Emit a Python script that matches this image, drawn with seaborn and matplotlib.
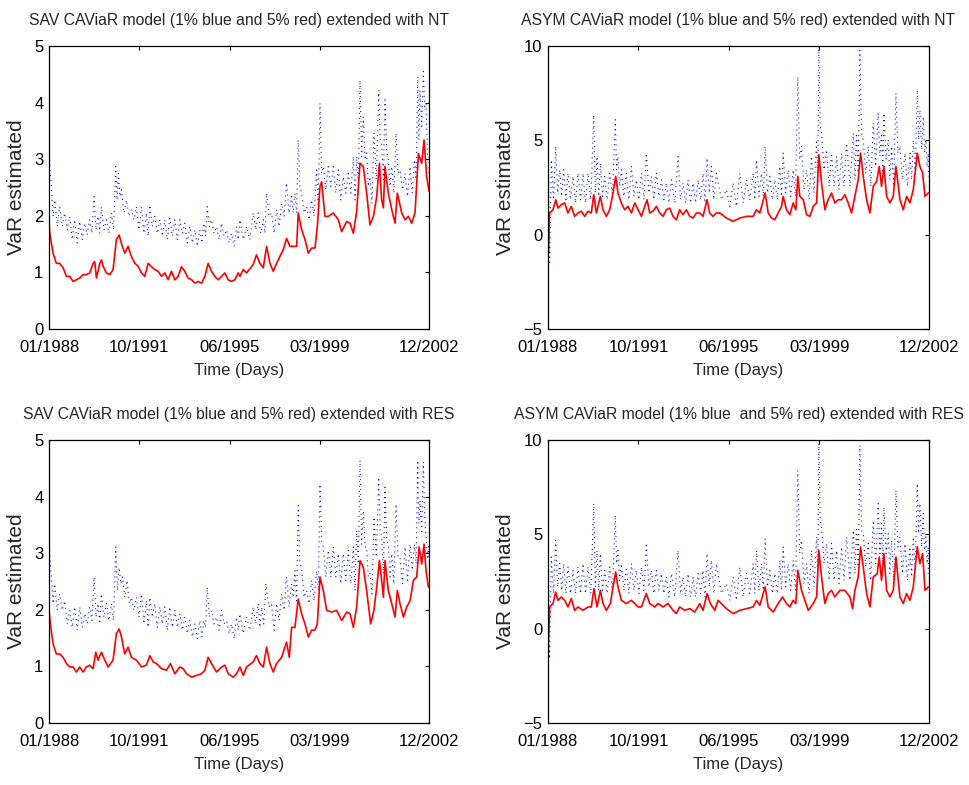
import matplotlib
matplotlib.use("Agg")
import matplotlib.pyplot as plt
import seaborn as sns

# ---------------------------------------------------------------------------
# Data: trading-day index (0 = 01/1988, 4000 = 12/2002) and estimated VaR
# ---------------------------------------------------------------------------
tick_days = [0, 950, 1900, 2850, 4000]
tick_labels = ["01/1988", "10/1991", "06/1995", "03/1999", "12/2002"]

# SAV CAViaR extended with NT, 5% VaR (red)
sav_nt_red_day = [0, 7, 42, 77, 112, 148, 183, 218, 253, 288,
                  323, 358, 393, 428, 464, 481, 499, 534, 551, 569,
                  604, 639, 674, 709, 738, 762, 797, 832, 867, 903,
                  938, 973, 1008, 1043, 1078, 1113, 1148, 1184, 1219, 1254,
                  1289, 1324, 1359, 1394, 1429, 1464, 1500, 1535, 1570, 1605,
                  1640, 1675, 1710, 1745, 1781, 1816, 1851, 1886, 1921, 1956,
                  1991, 2009, 2044, 2079, 2149, 2184, 2219, 2255, 2290, 2325,
                  2360, 2395, 2430, 2465, 2500, 2536, 2571, 2606, 2623, 2658,
                  2694, 2729, 2764, 2799, 2824, 2852, 2869, 2904, 2939, 2992,
                  3045, 3080, 3133, 3168, 3203, 3238, 3273, 3308, 3343, 3378,
                  3414, 3449, 3477, 3501, 3519, 3536, 3571, 3607, 3642, 3666,
                  3712, 3747, 3782, 3817, 3852, 3888, 3923, 3947, 3975, 4000]
sav_nt_red = [1.93, 1.70, 1.34, 1.16, 1.16, 1.08, 0.93, 0.93, 0.84, 0.87,
              0.90, 0.96, 0.96, 0.99, 1.16, 1.19, 0.90, 1.16, 1.22, 1.11,
              0.99, 0.96, 1.05, 1.58, 1.66, 1.51, 1.34, 1.46, 1.28, 1.16,
              1.11, 0.99, 0.93, 1.16, 1.10, 1.05, 1.02, 0.93, 0.99, 0.87,
              1.02, 0.87, 0.93, 1.10, 1.02, 0.90, 0.87, 0.81, 0.84, 0.81,
              0.93, 1.16, 1.02, 0.93, 0.87, 0.93, 0.99, 0.87, 0.84, 0.87,
              0.99, 0.93, 1.05, 0.99, 1.14, 1.31, 1.16, 1.08, 1.46, 1.16,
              1.02, 1.16, 1.28, 1.40, 1.60, 1.46, 1.46, 1.46, 2.05, 1.76,
              1.58, 1.34, 1.43, 1.43, 1.81, 2.52, 2.60, 1.99, 1.99, 2.05,
              1.93, 1.72, 1.90, 1.87, 1.69, 2.08, 2.93, 2.87, 2.40, 1.84,
              1.99, 2.34, 2.93, 2.28, 2.14, 2.87, 2.40, 2.11, 1.87, 2.40,
              2.05, 1.93, 1.99, 1.87, 2.05, 3.10, 2.93, 3.34, 2.69, 2.43]

# SAV CAViaR 1% VaR (blue): upper / lower edge of the daily scatter
sav_blue_day = [0, 25, 60, 112, 165, 218, 270, 323, 376, 428,
                474, 516, 551, 604, 657, 702, 730, 762, 815, 867,
                920, 973, 1025, 1061, 1113, 1166, 1219, 1271, 1324, 1377,
                1429, 1482, 1535, 1587, 1630, 1665, 1710, 1763, 1816, 1868,
                1921, 1974,
                2009, 2079, 2149, 2202, 2255, 2290, 2342, 2395, 2448, 2500,
                2553, 2588, 2623, 2658, 2711, 2764, 2816, 2852, 2887, 2939,
                2992, 3045, 3097, 3150, 3203, 3238, 3273, 3308, 3343, 3378,
                3420, 3470, 3501, 3536, 3571, 3607, 3652, 3694, 3747, 3800,
                3846, 3881, 3905, 3940, 3968, 4000]
sav_nt_blue_hi = [3.16, 2.52, 2.28, 2.16, 2.05, 1.99, 1.93, 1.90, 1.87, 1.93,
                  2.34, 1.99, 2.16, 1.93, 2.05, 2.87, 2.75, 2.46, 2.28, 2.11,
                  2.16, 2.16, 2.05, 2.19, 1.99, 1.93, 1.93, 1.96, 1.93, 1.93,
                  1.87, 1.81, 1.75, 1.75, 1.87, 2.16, 1.93, 1.81, 1.87, 1.75,
                  1.69, 1.81,
                  1.93, 1.81, 2.05, 2.05, 1.93, 2.40, 2.05, 2.11, 2.22, 2.58,
                  2.34, 2.40, 3.34, 2.40, 2.16, 2.28, 2.81, 3.99, 2.87, 2.87,
                  2.87, 2.81, 2.69, 2.75, 3.05, 3.05, 4.40, 3.75, 3.11, 2.69,
                  3.46, 4.22, 3.28, 4.05, 2.99, 2.87, 3.46, 2.81, 2.75, 2.87,
                  2.99, 4.46, 4.22, 4.55, 3.99, 3.05]
sav_nt_blue_lo = [2.75, 1.99, 1.81, 1.81, 1.75, 1.58, 1.52, 1.58, 1.66, 1.69,
                  1.75, 1.69, 1.75, 1.69, 1.75, 2.28, 2.34, 2.05, 1.99, 1.93,
                  1.75, 1.69, 1.64, 1.81, 1.69, 1.64, 1.58, 1.64, 1.58, 1.69,
                  1.52, 1.52, 1.46, 1.52, 1.64, 1.81, 1.69, 1.58, 1.64, 1.52,
                  1.46, 1.58,
                  1.58, 1.58, 1.75, 1.69, 1.69, 1.99, 1.69, 1.81, 1.99, 2.05,
                  2.05, 2.05, 2.52, 2.05, 1.93, 1.99, 2.16, 2.75, 2.46, 2.52,
                  2.40, 2.28, 2.40, 2.40, 2.28, 2.58, 3.05, 2.99, 2.52, 2.22,
                  2.64, 3.34, 2.64, 3.16, 2.52, 2.40, 2.75, 2.46, 2.34, 2.40,
                  2.64, 3.34, 3.58, 3.93, 3.05, 2.75]

# SAV CAViaR extended with RES
sav_res_red_day = [0, 14, 42, 77, 112, 148, 183, 218, 253, 288,
                   323, 358, 393, 428, 464, 492, 516, 551, 587, 622,
                   674, 709, 738, 762, 797, 832, 867, 920, 973, 1025,
                   1061, 1096, 1131, 1184, 1236, 1278, 1324, 1377, 1412, 1447,
                   1500, 1552, 1605, 1640, 1675, 1710, 1763, 1816, 1851, 1886,
                   1939, 1974,
                   2009, 2044, 2079, 2149, 2184, 2219, 2255, 2290, 2325, 2360,
                   2395, 2448, 2500, 2529, 2553, 2588, 2623, 2658, 2694, 2729,
                   2764, 2799, 2824, 2852, 2887, 2922, 2975, 3027, 3080, 3133,
                   3168, 3203, 3238, 3273, 3308, 3343, 3385, 3420, 3449, 3477,
                   3501, 3519, 3536, 3571, 3607, 3642, 3666, 3694, 3730, 3765,
                   3800, 3835, 3870, 3895, 3923, 3947, 3968, 3993]
sav_res_red = [1.99, 1.75, 1.40, 1.22, 1.22, 1.16, 1.05, 0.99, 0.99, 0.90,
               0.99, 0.90, 0.99, 1.02, 0.96, 1.25, 1.11, 1.25, 1.11, 0.99,
               1.11, 1.58, 1.66, 1.52, 1.22, 1.34, 1.16, 1.11, 0.99, 1.02,
               1.19, 1.08, 1.05, 0.96, 0.93, 1.05, 0.87, 0.99, 0.96, 0.87,
               0.81, 0.84, 0.87, 0.93, 1.16, 1.05, 0.90, 0.99, 1.02, 0.87,
               0.81, 0.87,
               0.99, 0.84, 0.99, 1.08, 1.19, 1.05, 0.99, 1.34, 1.05, 0.90,
               1.05, 1.16, 1.43, 1.16, 1.69, 1.69, 2.19, 1.93, 1.75, 1.52,
               1.64, 1.64, 1.75, 2.58, 2.34, 1.99, 1.96, 1.99, 1.81, 1.96,
               1.93, 1.69, 2.05, 2.87, 2.75, 2.34, 1.75, 1.99, 2.40, 2.87,
               2.52, 2.22, 2.87, 2.34, 2.11, 1.87, 2.34, 2.11, 1.87, 2.05,
               2.16, 2.52, 2.58, 3.11, 2.81, 3.16, 2.69, 2.40]
sav_res_blue_day = [0, 25, 60, 112, 165, 218, 270, 323, 376, 428,
                    474, 516, 551, 604, 657, 702, 738, 773, 822, 867,
                    920, 973, 1025, 1061, 1113, 1166, 1219, 1271, 1324, 1377,
                    1429, 1482, 1535, 1587, 1630, 1665, 1710, 1763, 1816, 1868,
                    1921, 1974,
                    2009, 2079, 2149, 2202, 2237, 2283, 2342, 2395, 2448, 2500,
                    2553, 2588, 2623, 2658, 2711, 2764, 2816, 2852, 2887, 2939,
                    2992, 3045, 3097, 3150, 3203, 3238, 3273, 3308, 3343, 3378,
                    3420, 3470, 3501, 3536, 3571, 3607, 3652, 3694, 3747, 3800,
                    3846, 3881, 3905, 3940, 3968, 4000]
sav_res_blue_hi = [3.40, 2.58, 2.46, 2.28, 2.16, 1.99, 2.05, 2.05, 1.93, 2.05,
                   2.58, 2.11, 2.28, 2.11, 2.11, 3.11, 2.75, 2.58, 2.52, 2.22,
                   2.22, 2.28, 2.16, 2.22, 2.11, 2.05, 2.05, 2.05, 1.99, 1.93,
                   1.87, 1.81, 1.75, 1.81, 1.81, 2.40, 1.99, 1.87, 1.99, 1.81,
                   1.75, 1.87,
                   1.93, 1.87, 2.05, 2.11, 2.05, 2.46, 2.11, 2.11, 2.28, 2.58,
                   2.46, 2.69, 3.84, 2.75, 2.34, 2.52, 2.69, 4.22, 3.11, 3.05,
                   3.11, 2.99, 2.99, 3.05, 3.11, 3.40, 4.64, 3.75, 3.11, 2.64,
                   3.64, 4.34, 3.28, 4.16, 3.16, 2.99, 3.87, 2.93, 3.11, 3.16,
                   3.16, 4.64, 3.93, 4.61, 3.28, 3.16]
sav_res_blue_lo = [2.81, 2.11, 1.99, 1.99, 1.75, 1.69, 1.64, 1.69, 1.75, 1.81,
                   1.87, 1.75, 1.87, 1.81, 1.81, 2.34, 2.46, 2.22, 2.11, 1.99,
                   1.87, 1.75, 1.69, 1.87, 1.69, 1.75, 1.64, 1.69, 1.69, 1.64,
                   1.58, 1.52, 1.49, 1.52, 1.69, 1.87, 1.75, 1.64, 1.75, 1.58,
                   1.49, 1.64,
                   1.58, 1.64, 1.75, 1.69, 1.75, 2.05, 1.64, 1.81, 1.99, 2.05,
                   2.22, 2.16, 2.81, 2.22, 2.11, 2.16, 2.34, 3.22, 2.58, 2.58,
                   2.58, 2.46, 2.52, 2.46, 2.34, 2.81, 3.16, 3.11, 2.58, 2.28,
                   2.93, 3.40, 2.64, 3.22, 2.58, 2.46, 2.93, 2.46, 2.52, 2.70,
                   2.81, 3.52, 3.34, 3.64, 2.93, 2.93]

# ASYM CAViaR extended with NT
asym_nt_red_day = [0, 18, 53, 81, 105, 140, 175, 210, 245,
                   280, 315, 350, 385, 420, 455, 480, 508, 550, 578,
                   613, 648, 683, 711, 735, 770, 805, 840, 876, 911,
                   946, 981, 1016, 1040, 1068, 1103, 1138, 1173, 1208, 1243,
                   1278, 1313, 1348, 1383, 1418, 1453, 1488, 1523, 1558, 1593,
                   1628, 1670, 1698, 1733, 1768,
                   1804, 1874, 1944, 2014, 2084, 2154, 2189, 2224, 2280, 2312,
                   2347, 2382, 2417, 2452, 2469, 2504, 2539, 2574, 2602, 2623,
                   2644, 2680, 2715, 2750, 2785, 2820, 2844, 2872, 2907, 2942,
                   2977, 3012, 3047, 3082, 3117, 3152, 3187, 3222, 3257, 3282,
                   3310, 3345, 3380, 3415, 3450, 3478, 3502, 3527, 3555, 3590,
                   3625, 3653, 3695, 3730, 3765, 3800, 3835, 3877, 3905, 3933,
                   3958, 3993]
asym_nt_red = [-1.68, 1.15, 1.32, 1.85, 1.41, 1.59, 1.68, 1.15, 1.50,
               0.97, 1.15, 1.24, 0.97, 1.24, 1.15, 2.12, 1.15, 2.03, 1.32,
               0.97, 1.32, 2.21, 3.09, 2.21, 1.68, 1.32, 1.50, 1.15, 1.68,
               1.32, 0.97, 1.50, 1.85, 1.15, 1.24, 1.50, 1.15, 0.97, 1.32,
               1.41, 0.97, 0.79, 1.32, 1.06, 1.32, 0.97, 0.88, 1.15, 1.15,
               0.97, 1.85, 1.15, 0.97, 1.15,
               1.15, 0.88, 0.71, 0.88, 0.97, 0.97, 1.32, 1.15, 2.21, 1.15,
               0.88, 0.79, 1.15, 1.50, 2.03, 1.32, 1.06, 1.68, 1.32, 3.09,
               2.03, 1.85, 1.06, 0.97, 1.50, 1.68, 4.24, 2.74, 1.32, 1.85,
               2.21, 1.68, 1.85, 1.85, 2.12, 1.68, 1.15, 2.03, 2.91, 4.32,
               3.09, 1.85, 1.15, 2.56, 2.82, 3.62, 2.56, 3.62, 2.03, 1.68,
               2.03, 3.62, 1.85, 1.32, 2.03, 1.68, 2.38, 4.32, 3.62, 3.26,
               2.03, 2.21]

asym_blue_day = [0, 35, 81, 123, 165, 210, 263, 315, 368, 420,
                 480, 515, 550, 595, 648, 707, 735, 770, 823, 876,
                 928, 981, 1033, 1086, 1138, 1191, 1243, 1296, 1366, 1418,
                 1471, 1523, 1576, 1628, 1670, 1716, 1768,
                 1874, 1944, 2014, 2084, 2154, 2189, 2242, 2280, 2329, 2382,
                 2434, 2469, 2522, 2574, 2623, 2662, 2715, 2767, 2820, 2844,
                 2872, 2925, 2977, 3030, 3082, 3135, 3205, 3240, 3275, 3310,
                 3362, 3415, 3467, 3502, 3527, 3572, 3607, 3653, 3695, 3748,
                 3800, 3835, 3877, 3905, 3940, 3968, 3993]
asym_nt_blue_hi = [5.73, 3.97, 4.68, 3.44, 3.44, 3.26, 3.09, 3.26, 3.26, 3.26,
                   6.35, 4.15, 3.79, 3.09, 3.26, 6.09, 4.15, 3.44, 3.26, 3.62,
                   2.91, 3.26, 4.32, 3.09, 3.26, 2.91, 2.74, 2.91, 4.15, 2.74,
                   2.91, 2.74, 2.91, 3.26, 4.06, 3.62, 3.26,
                   2.38, 2.74, 3.26, 2.91, 3.26, 3.97, 3.26, 4.68, 3.09, 2.91,
                   3.62, 4.32, 3.44, 3.44, 8.38, 4.68, 3.44, 4.15, 5.03, 9.97,
                   5.38, 4.50, 4.32, 4.15, 4.32, 4.85, 5.38, 5.38, 9.79, 5.03,
                   4.68, 5.91, 6.44, 5.38, 6.44, 5.03, 4.68, 7.50, 4.68, 4.32,
                   4.32, 5.03, 7.68, 6.62, 6.26, 5.03, 4.32]
asym_nt_blue_lo = [-1.60, 1.85, 2.21, 2.03, 1.85, 1.85, 1.68, 1.85, 1.68, 1.85,
                   2.21, 2.03, 2.03, 1.85, 2.03, 3.44, 2.56, 2.03, 1.85, 2.03,
                   1.85, 1.85, 2.21, 1.85, 2.03, 1.85, 1.68, 1.68, 1.85, 1.68,
                   1.68, 1.68, 1.85, 1.68, 2.21, 1.85, 1.85,
                   1.50, 1.50, 1.68, 1.85, 1.85, 2.03, 2.03, 2.21, 1.85, 1.85,
                   2.03, 2.21, 2.03, 2.03, 3.97, 2.38, 1.85, 2.21, 2.56, 5.73,
                   3.44, 2.56, 2.56, 2.38, 2.56, 2.56, 2.91, 3.26, 5.38, 3.26,
                   2.56, 3.62, 4.15, 3.26, 3.97, 2.91, 2.56, 4.32, 2.91, 2.56,
                   2.91, 3.26, 5.03, 4.50, 4.32, 3.62, 3.09]

# ASYM CAViaR extended with RES
asym_res_red_day = [0, 18, 53, 81, 105, 140, 175, 210, 245, 280,
                    315, 368, 420, 455, 483, 515, 550, 578, 613, 655,
                    683, 711, 735, 770, 823, 876, 911, 946, 981, 1033,
                    1068, 1121, 1156, 1208, 1261, 1313, 1348, 1383, 1436, 1488,
                    1541, 1593, 1628, 1670, 1705, 1751, 1786,
                    1874, 1944, 2014, 2084, 2154, 2189, 2224, 2280, 2312, 2364,
                    2417, 2462, 2504, 2539, 2574, 2602, 2623, 2662, 2697, 2732,
                    2785, 2820, 2844, 2872, 2907, 2942, 2977, 3012, 3065, 3117,
                    3170, 3198, 3222, 3257, 3282, 3310, 3345, 3380, 3415, 3457,
                    3478, 3502, 3527, 3555, 3590, 3625, 3653, 3695, 3730, 3765,
                    3800, 3835, 3877, 3905, 3933, 3958, 3993]
asym_res_red = [-1.59, 1.15, 1.33, 1.94, 1.50, 1.68, 1.50, 1.15, 1.59, 0.97,
                1.15, 0.97, 1.15, 1.15, 2.12, 1.15, 2.03, 1.33, 0.97, 1.33,
                2.21, 3.00, 2.21, 1.50, 1.33, 1.50, 1.33, 1.15, 1.15, 1.86,
                1.33, 1.15, 1.33, 1.15, 1.33, 0.97, 0.80, 1.15, 0.97, 1.06,
                0.88, 1.33, 0.97, 1.86, 1.33, 0.97, 1.50,
                1.06, 0.80, 0.97, 1.06, 1.15, 1.50, 1.24, 2.21, 1.15, 0.88,
                1.33, 1.68, 1.33, 1.15, 1.50, 1.33, 3.09, 2.03, 1.50, 0.97,
                1.33, 1.68, 4.15, 2.74, 1.33, 1.86, 2.03, 1.68, 2.03, 2.03,
                1.68, 1.06, 2.03, 2.74, 4.33, 3.27, 1.86, 1.15, 2.74, 2.92,
                3.80, 2.56, 3.98, 2.03, 1.68, 2.03, 3.80, 1.68, 1.33, 1.86,
                1.50, 2.21, 4.33, 3.45, 3.98, 2.03, 2.21]
asym_res_blue_hi = [5.74, 3.80, 4.68, 3.45, 3.45, 3.27, 3.09, 3.27, 3.45, 3.27,
                    6.63, 4.15, 3.98, 3.09, 3.27, 6.01, 4.15, 3.45, 3.27, 3.45,
                    3.09, 3.27, 4.42, 3.09, 3.09, 2.92, 2.74, 2.92, 4.15, 2.74,
                    2.92, 2.74, 2.92, 3.09, 3.98, 3.62, 3.45,
                    2.39, 2.74, 3.27, 2.92, 3.45, 4.15, 3.45, 4.77, 3.09, 2.92,
                    3.62, 4.33, 3.45, 3.62, 8.39, 4.68, 3.45, 4.15, 4.86, 9.81,
                    5.39, 4.51, 4.51, 4.15, 4.33, 4.86, 5.21, 5.39, 9.72, 5.04,
                    4.51, 5.74, 6.63, 5.57, 6.45, 5.04, 4.68, 7.33, 4.86, 4.51,
                    4.33, 4.86, 7.69, 6.63, 6.10, 4.86, 4.33]
asym_res_blue_lo = [-1.60, 1.86, 2.21, 2.03, 1.86, 1.86, 1.86, 1.86, 1.86, 1.86,
                    2.21, 2.03, 2.03, 1.86, 2.03, 3.45, 2.56, 2.03, 1.86, 2.03,
                    1.86, 2.03, 2.21, 1.86, 2.03, 1.86, 1.68, 1.68, 1.86, 1.68,
                    1.68, 1.68, 1.86, 1.68, 2.21, 1.86, 1.86,
                    1.50, 1.50, 1.68, 1.86, 1.86, 2.03, 2.03, 2.21, 1.86, 1.86,
                    2.03, 2.21, 2.03, 2.03, 3.98, 2.39, 1.86, 2.21, 2.56, 5.74,
                    3.45, 2.56, 2.56, 2.39, 2.56, 2.56, 2.92, 3.27, 5.21, 3.27,
                    2.56, 3.45, 3.98, 3.27, 3.98, 2.92, 2.56, 4.33, 2.92, 2.56,
                    2.74, 3.09, 5.04, 4.33, 4.15, 3.45, 2.92]

# ---------------------------------------------------------------------------
# Styling
# ---------------------------------------------------------------------------
sns.set_theme(style="white")
plt.rcParams["font.family"] = ["Liberation Sans", "DejaVu Sans"]
plt.rcParams["axes.unicode_minus"] = True
TITLE_SIZE = 11.3
TICK_SIZE = 12
LABEL_SIZE = 12


def scatter_path(day, hi, lo):
    """Zig-zag through the upper and lower edge of the daily 1% scatter."""
    xs, ys = [], []
    for i in range(len(day)):
        xs.append(day[i])
        ys.append(hi[i])
        nxt = (day[i] + day[i + 1]) / 2 if i < len(day) - 1 else day[i]
        xs.append(nxt)
        ys.append(lo[i])
    return xs, ys


def draw_panel(ax, title, red_day, red, blue_day, blue_hi, blue_lo,
               ylim, yticks):
    bx, by = scatter_path(blue_day, blue_hi, blue_lo)
    sns.lineplot(x=bx, y=by, ax=ax, color="#0000ff", linewidth=0.8,
                 linestyle=(0, (0.9, 3.6)), estimator=None, sort=False)
    sns.lineplot(x=red_day, y=red, ax=ax, color="#ff0000", linewidth=1.2,
                 estimator=None, sort=False)
    ax.set_xlim(0, 4000)
    ax.set_ylim(*ylim)
    ax.set_xticks(tick_days)
    ax.set_xticklabels(tick_labels)
    ax.set_yticks(yticks)
    ax.set_yticklabels([f"{t:g}".replace("-", "\u2212") for t in yticks])
    ax.tick_params(direction="in", top=True, right=True, length=3,
                   width=0.8, colors="black", labelsize=TICK_SIZE)
    ax.tick_params(axis="x", pad=8)
    ax.tick_params(axis="y", pad=4)
    for sp in ax.spines.values():
        sp.set_color("black")
        sp.set_linewidth(0.9)
    ax.set_title(title, fontsize=TITLE_SIZE, pad=15)
    ax.set_xlabel("Time (Days)", fontsize=LABEL_SIZE, labelpad=6)
    ax.set_ylabel("VaR estimated", fontsize=15, labelpad=6)


fig = plt.figure(figsize=(9.69, 7.85), dpi=100)
fig.patch.set_facecolor("white")

ax_tl = fig.add_axes([0.0506, 0.5809, 0.3922, 0.3605])
ax_tr = fig.add_axes([0.5655, 0.5809, 0.3932, 0.3605])
ax_bl = fig.add_axes([0.0506, 0.0790, 0.3922, 0.3605])
ax_br = fig.add_axes([0.5655, 0.0790, 0.3932, 0.3605])

draw_panel(ax_tl, "SAV CAViaR model (1% blue and 5% red) extended with NT",
           sav_nt_red_day, sav_nt_red, sav_blue_day, sav_nt_blue_hi,
           sav_nt_blue_lo, (0, 5), [0, 1, 2, 3, 4, 5])
draw_panel(ax_tr, "ASYM CAViaR model (1% blue and 5% red) extended with NT",
           asym_nt_red_day, asym_nt_red, asym_blue_day, asym_nt_blue_hi,
           asym_nt_blue_lo, (-5, 10), [-5, 0, 5, 10])
draw_panel(ax_bl, "SAV CAViaR model (1% blue and 5% red) extended with RES",
           sav_res_red_day, sav_res_red, sav_res_blue_day, sav_res_blue_hi,
           sav_res_blue_lo, (0, 5), [0, 1, 2, 3, 4, 5])
draw_panel(ax_br, "ASYM CAViaR model (1% blue  and 5% red) extended with RES",
           asym_res_red_day, asym_res_red, asym_blue_day, asym_res_blue_hi,
           asym_res_blue_lo, (-5, 10), [-5, 0, 5, 10])

fig.savefig("out.png", dpi=100, facecolor="white")
